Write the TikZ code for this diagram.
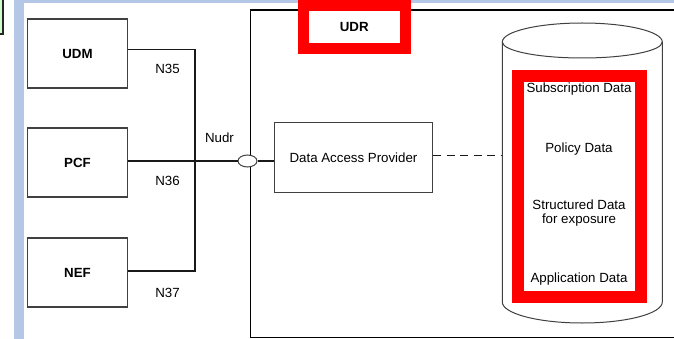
\documentclass[tikz,border=0pt]{standalone}
\usepackage{fontspec}
\setmainfont{Liberation Sans}
\usetikzlibrary{calc,shapes.geometric}
\definecolor{bandblue}{HTML}{B4C7E7}
\definecolor{lgreen}{HTML}{CCFFCC}
\definecolor{boxgray}{HTML}{404040}
\definecolor{udrred}{HTML}{FF0000}
\tikzset{
  nfbox/.style={draw=boxgray, line width=1.2pt, fill=white, minimum width=100pt, minimum height=69pt, inner sep=0pt, font=\fontsize{13.3}{15.5}\selectfont\bfseries},
  conn/.style={draw=black!90, line width=1.1pt},
  lbl/.style={inner sep=0pt, font=\fontsize{13.3}{15.5}\selectfont},
  redframe/.style={draw=udrred, fill=white, inner sep=0pt}
}
\begin{document}
\begin{tikzpicture}[x=1pt,y=-1pt]
\useasboundingbox (0,0) rectangle (674,339);
\fill[white] (0,0) rectangle (674,339);
% background bands
\fill[bandblue] (14,0) rectangle (24,339);
\fill[bandblue] (14,0) rectangle (674,3.5);
\draw[fill=lgreen, draw=black!85, line width=1.6pt] (-6,-6) rectangle (3,34);
% UDR enclosure (open at right)
\draw[black, line width=1.5pt] (676,9.8) -- (250.5,9.8) -- (250.5,337.7) -- (676,337.7);
% UDR label
\node[redframe, line width=11pt, minimum width=101.5pt, minimum height=43pt, font=\fontsize{13.3}{15.5}\selectfont\bfseries] (udrlabel) at (354.25,27) {UDR};
% NF boxes
\node[nfbox] (udm) at (77.5,53.5) {UDM};
\node[nfbox] (pcf) at (77.5,162.5) {PCF};
\node[nfbox] (nef) at (77.5,272.5) {NEF};
% junction
\coordinate (jtop) at (195,49.5);
\coordinate (jbot) at (195,271);
\coordinate (jmid) at (195,161);
% interface ellipse
\node[ellipse, draw=boxgray, line width=1pt, fill=white, minimum width=19pt, minimum height=12pt, inner sep=0pt] (iface) at (247.5,161) {};
% Data Access Provider
\node[draw=boxgray, line width=1.1pt, fill=white, minimum width=158pt, minimum height=70pt, inner sep=0pt, font=\fontsize{13.3}{15.5}\selectfont] (dap) at (353.5,157.3) {Data Access Provider};
% connectors
\draw[conn] (udm.east |- jtop) -- (jtop) -- (jbot) -- (nef.east |- jbot);
\draw[conn] (pcf.east |- jmid) -- (iface.west);
\draw[conn] (iface.east) -- (dap.west |- iface);
% labels
\node[lbl] (n35) at (167.5,69) {N35};
\node[lbl] (n36) at (167.5,181) {N36};
\node[lbl] (n37) at (167.5,292.5) {N37};
\node[lbl] (nudr) at (219.5,137.5) {Nudr};
% cylinder
\draw[boxgray, line width=1pt, fill=white] (502.3,42) -- (502.3,302)
  arc[start angle=180, end angle=0, x radius=80, y radius=21] -- (662.3,42)
  arc[start angle=0, end angle=-180, x radius=80, y radius=19] -- cycle;
\draw[boxgray, line width=1pt] (502.3,42) arc[start angle=180, end angle=0, x radius=80, y radius=16];
\coordinate (cylw) at (502.3,156);
\draw[conn, line width=1pt, dash pattern=on 8pt off 5.5pt] (dap.east |- cylw) -- (cylw);
% data frame
\node[redframe, line width=11.7pt, minimum width=122.5pt, minimum height=221.4pt] (dataframe) at (579.5,186.5) {};
\node[lbl] (subs) at (579,89) {Subscription Data};
\node[lbl] (policy) at (579,149) {Policy Data};
\node[lbl, align=center, font=\fontsize{13.3}{14.5}\selectfont] (struct) at (579,213) {Structured Data\\for exposure};
\node[lbl] (app) at (579,279) {Application Data};
\end{tikzpicture}
\end{document}
